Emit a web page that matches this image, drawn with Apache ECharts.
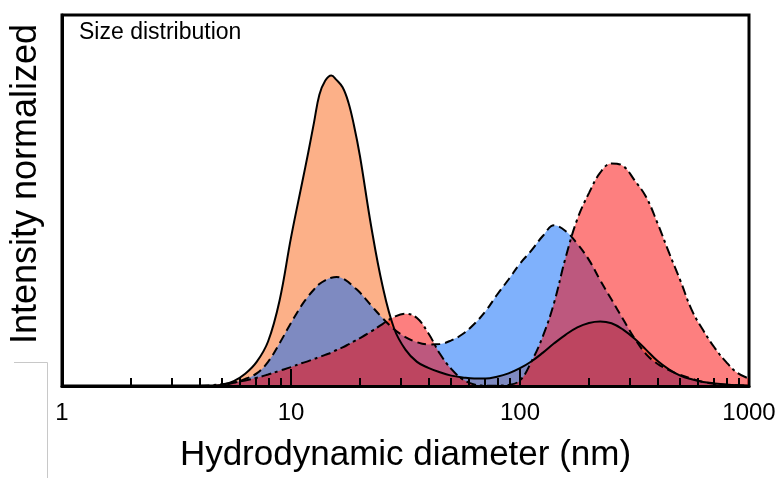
<!DOCTYPE html>
<html>
<head>
<meta charset="utf-8">
<script src="https://cdn.jsdelivr.net/npm/echarts@6/dist/echarts.min.js"></script>
<style>
html,body{margin:0;padding:0;background:#fff;}
#chart{width:780px;height:478px;}
</style>
</head>
<body>
<div id="chart"></div>
<script>
// ---- data ----
const tickLabels = ['1', '10', '100', '1000'];
const minorTicks = [2,3,4,5,6,7,8,9,20,30,40,50,60,70,80,90,200,300,400,500,600,700,800,900];

// hydrodynamic diameters (nm) at which the curves were read
const diam = [3.98,4.47,5.01,5.62,6.31,7.08,7.94,8.91,10,11.2,
              11.9,12.6,13.3,14.1,15.0,15.8,16.8,17.8,18.8,20,
              22.4,25.1,28.2,31.6,35.5,39.8,44.7,50.1,56.2,63.1,
              70.8,79.4,89.1,100,112,126,141,158,178,200,
              224,251,282,316,355,398,447,501,562,631,
              708,794,891,1000];

// series A: solid outline, orange fill
const orangeV = [0,0,0.3,1.3,3.3,6.5,12,23,40,55,
                 63,71,78.5,82.3,83.7,82.5,80.5,76.5,70.5,62,
                 43,27,15.5,9.8,6.5,4.9,3.7,2.8,2.3,2.0,
                 2.0,2.5,3.4,4.8,6.6,9.0,11.5,13.8,15.8,17,
                 17.4,16.9,15.2,12.8,9.8,6.8,4.5,2.8,1.8,1.1,
                 0.7,0.4,0.2,0.1];

// series B: dashed outline, blue fill
const blueV = [0,0,0.2,0.9,1.9,3.4,6.5,11.5,17,22,
               24.2,26,27.5,28.5,29.2,29.4,29,28,26.7,25.2,
               21.7,18.3,15.3,13.2,11.8,11.2,11.3,12.3,14.0,16.7,
               20.2,24.6,28.7,33,36.5,40.5,43.3,41.8,38.3,34,
               28.5,23.3,18,12.9,8.6,6,4.3,3,2,1.1,
               0.6,0.35,0.2,0.1];

// series C: dash-dot outline, red fill
const redV = [0,0.2,0.5,0.9,1.5,2.2,3.1,4.1,5.1,6.2,
              6.7,7.3,7.8,8.4,9,9.7,10.4,11.2,12,12.9,
              14.7,16.7,18.6,19.5,18.3,14.2,8.7,4.6,1.8,0.4,
              0.1,0.1,0.3,1.5,6.5,13.5,22.5,34.5,45,52,
              57.5,60,59.3,55.5,51,44,36,28.5,20.5,15,
              10.3,6.5,3.5,2];

const zip = (xs, ys) => xs.map((x, i) => [x, ys[i]]);
const FONT = "'Liberation Sans', Arial, sans-serif";

function fill(name, v, color) {
  return {
    name: name, type: 'line', xAxisIndex: 0, yAxisIndex: 0,
    data: zip(diam, v), smooth: 0.4,
    symbol: 'none', silent: true, z: 2,
    lineStyle: { width: 0, opacity: 0 },
    areaStyle: { color: color, opacity: 1 }
  };
}
function outline(name, v, type) {
  return {
    name: name, type: 'line', xAxisIndex: 0, yAxisIndex: 0,
    data: zip(diam, v), smooth: 0.4,
    symbol: 'none', silent: true, z: 3,
    lineStyle: { color: '#000', width: 2, type: type }
  };
}

const chart = echarts.init(document.getElementById('chart'), null, { renderer: 'canvas' });
chart.setOption({
  animation: false,
  backgroundColor: '#fff',
  title: {
    text: 'Size distribution', left: 79, top: 21, padding: 0,
    textStyle: { fontSize: 23, fontWeight: 'normal', color: '#000', fontFamily: FONT }
  },
  grid: {
    left: 62, right: 31, top: 15, bottom: 88,
    show: true, borderColor: '#000', borderWidth: 3, backgroundColor: 'transparent'
  },
  xAxis: [
    {
      type: 'log', logBase: 10, min: 1, max: 1000, position: 'bottom', z: 10,
      axisLine: { show: true, lineStyle: { color: '#000', width: 3 } },
      axisTick: { show: true, inside: true, length: 17, lineStyle: { color: '#000', width: 2 } },
      axisLabel: {
        show: true, fontSize: 24, color: '#000', fontFamily: FONT, margin: 15,
        formatter: (val, idx) => tickLabels[idx]
      },
      splitLine: { show: false },
      minorTick: { show: false },
      name: 'Hydrodynamic diameter (nm)', nameLocation: 'middle', nameGap: 52,
      nameTextStyle: { fontSize: 35, color: '#000', fontFamily: FONT }
    },
    {
      type: 'value', min: 0, max: 3, position: 'bottom', z: 10,
      axisLine: { show: false },
      axisLabel: { show: false },
      splitLine: { show: false },
      axisTick: {
        show: true, inside: true, length: 8,
        customValues: minorTicks.map(Math.log10),
        lineStyle: { color: '#000', width: 2 }
      }
    }
  ],
  yAxis: {
    type: 'value', min: 0, max: 100, z: 10,
    axisLine: { show: true, lineStyle: { color: '#000', width: 3 } },
    axisTick: { show: false }, axisLabel: { show: false }, splitLine: { show: false }
  },
  graphic: [
    {
      type: 'text', x: 26, y: 184, rotation: Math.PI / 2, z: 20,
      style: { text: 'Intensity normalized', font: "36px 'Liberation Sans', Arial, sans-serif",
               fill: '#000', align: 'center', verticalAlign: 'middle' }
    },
    { type: 'line', z: 20, shape: { x1: 14, y1: 362.5, x2: 47.5, y2: 362.5 }, style: { stroke: '#c8c8c8', lineWidth: 1 } },
    { type: 'line', z: 20, shape: { x1: 47.5, y1: 362.5, x2: 47.5, y2: 478 }, style: { stroke: '#c8c8c8', lineWidth: 1 } }
  ],
  series: [
    fill('A', orangeV, '#fcb088'),
    fill('B', blueV, 'rgba(0,100,250,0.5)'),
    fill('C', redV, 'rgba(252,0,0,0.5)'),
    outline('A line', orangeV, 'solid'),
    outline('B line', blueV, [9, 5]),
    outline('C line', redV, [10, 4, 3, 4])
  ]
});
</script>
</body>
</html>
